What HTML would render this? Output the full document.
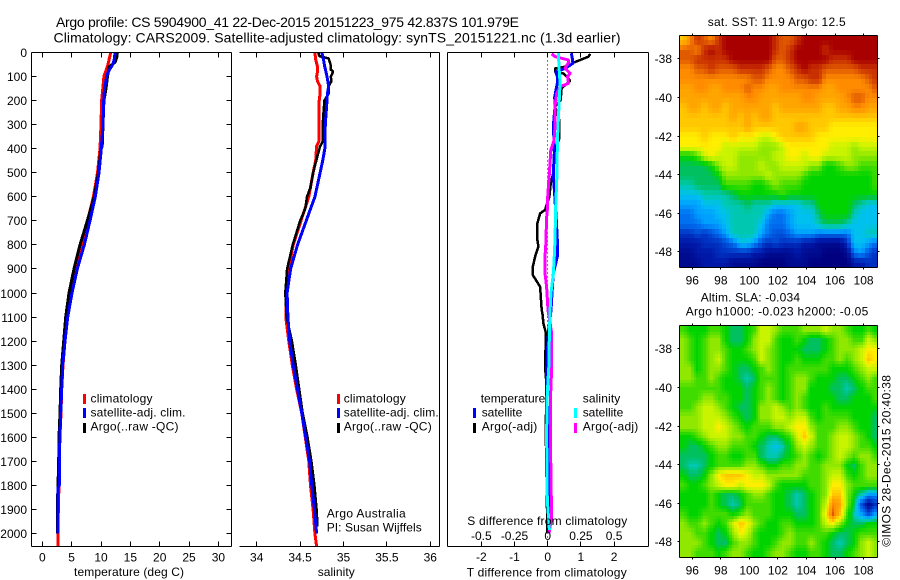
<!DOCTYPE html>
<html>
<head>
<meta charset="utf-8">
<title>Argo profile</title>
<style>
html,body{margin:0;padding:0;background:#fff;}
svg{display:block;font-family:"Liberation Sans",sans-serif;}
text{fill:#000;font-size:12px;}
.t14{font-size:14px;}
.ax{stroke:#000;stroke-width:1;fill:none;shape-rendering:crispEdges;}
</style>
</head>
<body>
<svg id="fig" xmlns="http://www.w3.org/2000/svg" width="900" height="580" viewBox="0 0 900 580">
<rect x="0" y="0" width="900" height="580" fill="#fff"/>
<g id="maps" shape-rendering="crispEdges"></g>
<g id="series"></g>
<g id="axes"></g>
<g id="ticklabels"></g>

<text class="t14" x="56" y="27" textLength="463" lengthAdjust="spacing">Argo profile: CS 5904900_41 22-Dec-2015 20151223_975 42.837S 101.979E</text>
<text class="t14" x="53.5" y="42.5" textLength="567" lengthAdjust="spacing">Climatology: CARS2009. Satellite-adjusted climatology: synTS_20151221.nc (1.3d earlier)</text>

<text x="74" y="576" textLength="110" lengthAdjust="spacing">temperature (deg C)</text>
<text x="317.7" y="576" textLength="37" lengthAdjust="spacing">salinity</text>
<text x="466.7" y="576.5" textLength="160" lengthAdjust="spacing">T difference from climatology</text>
<text x="467.3" y="525" textLength="160" lengthAdjust="spacing">S difference from climatology</text>

<g>
<rect x="83" y="394" width="3" height="10" fill="#f00"/>
<rect x="83" y="408" width="3" height="10" fill="#00f"/>
<rect x="83" y="423" width="3" height="10" fill="#000"/>
<text x="90.5" y="402.7" textLength="62" lengthAdjust="spacing">climatology</text>
<text x="90.5" y="416.7" textLength="95" lengthAdjust="spacing">satellite-adj. clim.</text>
<text x="90.5" y="430.7" textLength="88" lengthAdjust="spacing">Argo(..raw -QC)</text>
</g>
<g>
<rect x="337" y="394" width="3" height="10" fill="#f00"/>
<rect x="337" y="408" width="3" height="10" fill="#00f"/>
<rect x="337" y="423" width="3" height="10" fill="#000"/>
<text x="343.7" y="402.7" textLength="62" lengthAdjust="spacing">climatology</text>
<text x="343.7" y="416.7" textLength="95" lengthAdjust="spacing">satellite-adj. clim.</text>
<text x="343.7" y="430.7" textLength="88" lengthAdjust="spacing">Argo(..raw -QC)</text>
</g>
<text x="326.7" y="517.7" textLength="79" lengthAdjust="spacing">Argo Australia</text>
<text x="326.7" y="531.7" textLength="95" lengthAdjust="spacing">PI: Susan Wijffels</text>

<g>
<text x="480.7" y="402.7" textLength="64.6" lengthAdjust="spacing">temperature</text>
<text x="582.7" y="402.7" textLength="37.6" lengthAdjust="spacing">salinity</text>
<rect x="473" y="408" width="3" height="10" fill="#00f"/>
<rect x="473" y="423" width="3" height="10" fill="#000"/>
<rect x="574" y="408" width="3" height="10" fill="#0ff"/>
<rect x="574" y="423" width="3" height="10" fill="#f0f"/>
<text x="481.7" y="416.7" textLength="40.6" lengthAdjust="spacing">satellite</text>
<text x="481.7" y="430.7" textLength="55.6" lengthAdjust="spacing">Argo(-adj)</text>
<text x="582.7" y="416.7" textLength="40.6" lengthAdjust="spacing">satellite</text>
<text x="582.7" y="430.7" textLength="55.6" lengthAdjust="spacing">Argo(-adj)</text>
</g>

<text x="707.7" y="26" textLength="138" lengthAdjust="spacing">sat. SST: 11.9 Argo: 12.5</text>
<text x="700.7" y="301.7" textLength="99.3" lengthAdjust="spacing">Altim. SLA: -0.034</text>
<text x="685.7" y="315.7" textLength="182.6" lengthAdjust="spacing">Argo h1000: -0.023 h2000: -0.05</text>
<text transform="translate(890.7 546.7) rotate(-90)" x="0" y="0" textLength="171.7" lengthAdjust="spacing">©IMOS 28-Dec-2015 20:40:38</text>
</svg>

<script>
// ---------- profile data ----------
const tempClimDepth = [0,50,100,150,200,300,400,500,600,700,800,900,1000,1100,1200,1300,1400,1500,1600,1700,1800,1900,2000,2053];
const tempClim = [11.65,11.2,10.5,10.3,10.1,10.0,9.83,9.4,8.7,7.7,6.7,5.74,4.84,4.26,3.87,3.53,3.3,3.19,3.0,2.9,2.85,2.73,2.67,2.67];
const tempSatDepth = [0,30,50,80,100,150,200,300,400,500,600,700,800,900,1000,1100,1200,1300,1400,1500,1600,1700,1800,1810,2000];
const tempSat = [12.4,12.25,12.0,11.25,10.97,10.6,10.46,10.34,10.05,9.66,9.03,8.13,7.16,5.96,5.06,4.33,3.87,3.47,3.3,3.13,3.0,2.9,2.9,2.67,2.67];
const tempArgoDepth = [0,20,40,60,100,150,200,300,390,400,500,600,700,800,900,1000,1100,1200,1300,1400,1500,1600,1700,1800,1900,2000];
const tempArgo = [12.8,12.7,12.4,11.4,11.1,10.85,10.5,10.34,10.2,10.0,9.55,8.85,7.67,6.42,5.4,4.55,3.98,3.64,3.3,3.13,3.02,2.85,2.79,2.67,2.56,2.56];

const salClimDepth = [0,30,60,80,100,120,140,170,200,300,370,390,450,500,600,700,800,900,1000,1100,1200,1300,1400,1500,1600,1700,1800,1900,2000,2053];
const salClim = [34.67,34.68,34.70,34.70,34.69,34.70,34.73,34.73,34.72,34.715,34.715,34.69,34.68,34.65,34.6,34.51,34.42,34.37,34.34,34.335,34.37,34.41,34.46,34.52,34.56,34.6,34.62,34.65,34.67,34.69];
const salSatDepth = [0,30,60,100,140,170,200,300,400,450,500,600,700,800,900,1000,1100,1200,1300,1400,1500,1600,1700,1800,1900,2000];
const salSat = [34.75,34.77,34.785,34.81,34.83,34.815,34.81,34.79,34.785,34.76,34.73,34.67,34.57,34.47,34.39,34.35,34.36,34.38,34.42,34.47,34.52,34.565,34.61,34.635,34.665,34.69];
const salArgoDepth = [0,15,25,50,70,80,100,120,140,170,200,250,300,370,390,430,500,560,600,650,700,800,900,1000,1100,1200,1300,1400,1500,1600,1700,1800,1900,1970];
const salArgo = [34.71,34.72,34.83,34.85,34.85,34.88,34.855,34.86,34.83,34.83,34.78,34.77,34.76,34.76,34.73,34.7,34.65,34.62,34.58,34.56,34.5,34.415,34.35,34.33,34.345,34.405,34.45,34.49,34.53,34.585,34.63,34.665,34.69,34.7];

const dTSatDepth = [3,31,45,66,80,100,128,184,225,308,364,419,502,613,696,780,849,918,1001,1071,1168,1306,1417,1583,1999];
const dTSat = [0.71,0.75,0.76,0.53,0.24,0.29,0.29,0.21,0.22,0.17,0.19,0.2,0.17,0.22,0.26,0.29,0.29,0.17,0.13,0.1,0.02,-0.03,-0.03,0.02,0.03];
const dTArgoDepth = [6,17,31,45,56,66,80,87,117,149,198,225,281,357,405,502,544,599,655,669,710,780,807,849,891,925,974,1071,1084,1126,1168,1306,1389,1556,1999];
const dTArgo = [1.28,1.23,0.98,0.73,0.66,0.22,0.22,0.47,0.68,0.42,0.39,0.22,0.35,0.35,0.22,0.17,0.09,0.05,-0.08,-0.23,-0.31,-0.31,-0.28,-0.38,-0.45,-0.45,-0.23,-0.18,-0.16,-0.13,-0.05,-0.08,-0.03,-0.06,-0.01];
const dSArgoDepth = [6,17,31,42,66,87,100,128,142,170,225,308,364,405,502,558,600,655,696,780,849,918,974,1071,1168,1306,1445,1583,1791,1929,1999];
const dSArgo = [0.03,0.055,0.157,0.157,0.13,0.17,0.15,0.157,0.093,0.068,0.055,0.055,0.048,0.023,0.013,0.005,0,-0.003,-0.01,-0.012,-0.02,-0.02,-0.008,0.0025,0.03,0.03,0.02,0.02,0.025,0.03,0.01];
const dSSatDepth = [3,87,128,184,364,502,641,780,863,918,1001,1071,1168,1306,1417,1583,1860,1985];
const dSSat = [0.08,0.088,0.093,0.088,0.073,0.07,0.06,0.055,0.048,0.043,0.025,0.018,0.013,0.008,-0.003,-0.008,-0.003,0.013];

// ---------- tick labels ----------
const depthTicks = [0,100,200,300,400,500,600,700,800,900,1000,1100,1200,1300,1400,1500,1600,1700,1800,1900,2000];
const tempTicks = [0,5,10,15,20,25,30];
const salTicks = [34,34.5,35,35.5,36];
const tDiffTicks = [-2,-1,0,1,2];
const sDiffTicks = [-0.5,-0.25,0,0.25,0.5];
const lonTicks = [96,98,100,102,104,106,108];
const latTicks = [-38,-40,-42,-44,-46,-48];

// ---------- map data (colour level 0..20 on 0.5-degree samples, north to south) ----------
const sstLevels = [
[15,17,19,18,17,19,20,20,20,20,20,20,20,19,18,18,19,20,20,20,20,20,20,20,20,20,20,20],
[18,18,17,19,20,19,20,20,20,20,20,20,20,19,18,19,20,20,20,20,19,20,20,20,20,20,20,20],
[18,18,19,19,19,19,19,20,20,20,20,20,20,18,18,19,20,20,20,20,20,19,19,19,20,20,20,20],
[17,17,18,18,19,18,18,18,19,19,19,19,18,17,17,18,19,20,19,19,18,18,18,18,18,19,19,19],
[17,17,17,17,17,17,17,17,17,17,18,18,17,17,17,17,18,18,19,19,17,17,17,17,17,17,18,19],
[16,16,17,17,16,16,17,17,17,18,17,17,16,16,17,17,17,17,17,17,16,16,17,17,17,17,17,18],
[16,16,16,16,16,16,16,16,16,17,17,16,16,16,16,16,16,17,17,16,16,16,16,17,18,18,17,17],
[15,16,16,15,16,16,15,16,16,16,16,16,16,15,16,16,16,16,16,16,15,15,16,16,17,17,16,16],
[15,15,15,15,15,15,15,16,15,16,15,16,16,15,15,15,15,15,15,15,15,15,15,15,15,15,15,15],
[15,15,15,15,15,15,15,15,15,16,15,15,15,15,15,15,16,16,15,15,15,14,14,14,14,14,14,14],
[14,14,14,15,14,14,14,15,14,14,14,13,13,14,15,15,15,15,15,14,14,14,14,14,14,14,14,14],
[14,14,14,14,14,14,13,13,13,13,13,12,12,12,13,14,14,14,14,14,14,13,13,13,12,13,13,13],
[10,10,11,13,14,13,13,13,12,12,12,12,12,13,13,14,14,13,14,14,13,13,13,13,12,12,12,12],
[9,9,9,9,10,12,13,13,12,12,12,13,12,12,13,13,13,13,12,12,10,10,11,12,12,11,11,11],
[9,9,9,9,9,10,12,12,12,12,12,12,13,12,12,12,12,11,10,10,10,10,10,10,10,10,10,11],
[8,8,9,9,9,9,11,11,11,11,10,10,11,12,11,11,11,10,10,10,10,10,10,10,10,10,10,11],
[7,7,7,8,8,8,8,9,10,10,10,10,10,10,11,10,10,10,10,10,10,10,10,10,10,10,10,10],
[6,6,6,7,7,7,8,8,8,9,8,8,8,7,7,7,7,8,8,10,10,10,10,10,9,8,7,7],
[5,5,6,6,6,7,7,8,8,8,8,8,6,5,5,6,7,7,7,9,10,10,10,10,8,7,7,7],
[5,5,5,6,6,6,7,8,8,8,8,7,5,5,5,6,7,7,7,8,9,9,9,8,7,7,7,7],
[3,3,4,3,4,5,6,8,8,8,8,6,5,4,4,5,6,6,6,5,5,5,5,5,7,7,8,8],
[2,2,2,3,3,3,4,5,7,7,6,4,3,4,3,3,3,2,2,1,1,1,1,3,7,7,6,5],
[1,1,2,2,2,3,3,3,3,3,2,2,1,1,1,1,2,1,1,1,0,0,0,1,5,6,4,3],
[1,1,1,2,2,2,2,1,1,1,1,0,0,0,0,1,1,1,0,0,0,0,0,0,2,2,3,3]
];
const slaLevels = [
[11,10,10,10,11,11,10,9,9,10,11,13,13,12,11,11,11,12,12,12,13,12,12,11,10,10,11,10],
[12,11,10,11,12,12,10,9,9,10,12,13,13,11,10,10,11,10,9,9,10,11,12,12,11,11,13,12],
[12,11,10,11,12,12,11,10,10,11,12,13,12,11,10,10,10,9,9,9,10,11,12,12,12,13,14,14],
[12,11,10,11,12,13,11,10,10,10,11,13,12,11,10,10,11,10,10,10,11,11,12,11,12,13,15,14],
[12,12,10,11,12,12,11,10,9,9,10,11,12,11,10,11,11,11,11,11,11,10,10,10,11,12,13,13],
[12,12,11,11,12,11,10,10,9,8,9,11,11,11,10,11,12,12,11,10,10,10,9,9,10,11,12,11],
[11,11,11,11,11,11,10,10,10,9,10,11,12,11,10,11,12,12,10,10,10,9,9,8,9,10,11,11],
[11,11,11,12,12,11,11,10,10,9,10,11,12,11,10,11,12,11,10,10,10,10,9,9,10,10,10,11],
[11,11,12,13,13,12,11,10,9,9,10,12,12,13,12,11,12,11,10,10,11,10,10,10,10,10,10,10],
[12,12,12,13,13,13,12,11,10,9,10,12,12,13,13,12,13,13,11,10,11,11,11,11,10,10,10,9],
[12,12,12,13,13,14,13,12,11,10,11,11,11,12,12,13,14,14,12,11,11,11,12,12,11,10,10,9],
[10,10,11,12,13,13,13,12,12,11,11,10,9,9,10,11,13,15,13,11,11,12,13,13,12,11,10,9],
[10,9,9,10,11,12,12,11,11,11,10,9,8,7,8,10,12,13,12,11,11,12,13,13,12,11,11,10],
[9,9,9,9,10,11,11,10,10,11,11,9,8,8,9,10,11,12,11,10,11,12,13,12,11,12,12,11],
[9,8,8,9,10,11,11,11,11,12,12,11,10,10,11,11,12,12,11,11,12,12,12,10,9,11,12,12],
[10,9,9,10,12,14,15,15,15,14,13,13,12,12,12,12,12,11,11,11,12,13,13,11,10,11,12,12],
[11,10,10,11,12,13,14,14,13,14,14,14,13,11,10,10,10,10,11,11,12,14,14,12,11,11,11,11],
[10,10,10,10,11,10,9,9,10,11,12,12,11,10,10,9,8,9,10,11,12,15,15,12,10,8,6,6],
[10,10,10,10,11,10,9,8,9,11,11,11,11,10,10,9,8,9,10,11,13,17,16,12,9,4,1,3],
[11,10,10,11,11,11,11,10,11,12,11,11,11,10,10,10,9,9,10,11,14,18,15,11,8,6,4,6],
[12,11,11,12,11,10,11,13,15,14,12,11,10,10,11,11,10,10,10,11,13,14,12,10,9,9,10,10],
[12,12,11,11,10,9,10,12,14,13,11,10,10,10,11,12,11,11,11,11,11,10,9,9,10,11,11,11],
[12,12,12,11,10,9,9,11,12,12,11,10,10,11,12,12,11,11,12,11,10,9,8,9,10,12,13,12],
[12,12,11,11,11,10,11,12,12,11,10,10,11,12,12,11,10,10,11,11,10,9,9,10,11,12,13,12]
];
const levelColors = [[0,0,128],[0,12,144],[0,24,168],[0,48,192],[0,80,216],[0,112,240],[0,160,255],[0,192,240],[0,200,176],[0,192,96],[0,212,0],[64,220,0],[144,232,0],[200,244,0],[255,238,0],[255,200,0],[255,165,0],[255,140,0],[224,90,0],[200,48,0],[168,0,0]];

// ---------- axis functions ----------
const SVGNS = "http://www.w3.org/2000/svg";
const depthY = d => 52.5 + 0.2405 * d;
const tempX = v => 42.3 + 5.87 * v;
const salX = v => 256.7 + 86.8 * (v - 34);
const tDiffX = v => 547.7 + 33.2 * v;
const sDiffX = v => tDiffX(v * 4);
const lonX = v => 692.3 + 14.27 * (v - 96);
const LEFT = 679.5, RIGHT = 877.5;
const MAP1TOP = 35.5, MAP2TOP = 325.5;
const latY = (v, top) => top + 19.33 * (-36.8 - v);
const LON0 = 95.1, LAT0 = -36.8, CELL = 0.5;

const mapsG = document.getElementById('maps');
const seriesG = document.getElementById('series');
const axesG = document.getElementById('axes');
const labelsG = document.getElementById('ticklabels');

function mk(tag, attrs) {
  const e = document.createElementNS(SVGNS, tag);
  for (const k in attrs) e.setAttribute(k, attrs[k]);
  return e;
}
function addLine(x1, y1, x2, y2) {
  const l = mk('line', {x1: x1, y1: y1, x2: x2, y2: y2, class: 'ax'});
  
  
  axesG.appendChild(l);
}
function addLabel(str, x, y, anchor) {
  const t = mk('text', {x: x, y: y, 'text-anchor': anchor});
  
  
  t.textContent = str;
  labelsG.appendChild(t);
}
function drawProfile(depths, values, xFn, color, width, name) {
  const pts = depths.map((d, i) => xFn(values[i]).toFixed(1) + ',' + depthY(d).toFixed(1)).join(' ');
  const p = mk('polyline', {points: pts, fill: 'none', stroke: color, 'stroke-width': width, 'shape-rendering': 'crispEdges', 'stroke-linejoin': 'bevel'});
  
  
  seriesG.appendChild(p);
}
function levelColor(v) {
  const c = Math.max(0, Math.min(20, v));
  const i = Math.min(19, Math.floor(c)), f = c - i;
  const a = levelColors[i], b = levelColors[i + 1];
  return 'rgb(' + [0, 1, 2].map(k => Math.round(a[k] + (b[k] - a[k]) * f)).join(',') + ')';
}
function sample(levels, u, v) {
  const rows = levels.length, cols = levels[0].length;
  const cu = Math.max(0, Math.min(cols - 1, u)), cv = Math.max(0, Math.min(rows - 1, v));
  const i = Math.min(cols - 2, Math.floor(cu)), j = Math.min(rows - 2, Math.floor(cv));
  const fu = cu - i, fv = cv - j;
  return (levels[j][i] * (1 - fu) + levels[j][i + 1] * fu) * (1 - fv) + (levels[j + 1][i] * (1 - fu) + levels[j + 1][i + 1] * fu) * fv;
}
function drawMap(levels, top, sub, name) {
  const rows = levels.length, cols = levels[0].length;
  for (let r = 0; r < rows * sub; r++) {
    for (let c = 0; c < cols * sub; c++) {
      const x0 = Math.round(lonX(LON0 + CELL * c / sub)), x1 = Math.min(Math.round(RIGHT), Math.round(lonX(LON0 + CELL * (c + 1) / sub)));
      const y0 = Math.round(latY(LAT0 - CELL * r / sub, top)), y1 = Math.round(latY(LAT0 - CELL * (r + 1) / sub, top));
      if (x1 <= x0 || y1 <= y0) continue;
      const val = sample(levels, (c + 0.5) / sub - 0.5, (r + 0.5) / sub - 0.5);
      const cell = mk('rect', {x: x0, y: y0, width: x1 - x0, height: y1 - y0, fill: levelColor(val)});
      
      
      mapsG.appendChild(cell);
    }
  }
}

// ---------- maps ----------
drawMap(sstLevels, MAP1TOP, 2, 'sst-map-cell');
drawMap(slaLevels, MAP2TOP, 3, 'sla-map-cell');

// ---------- series ----------
drawProfile(tempClimDepth, tempClim, tempX, '#f00', 3, 'temperature-climatology-line');
drawProfile(tempArgoDepth, tempArgo, tempX, '#000', 3, 'temperature-argo-line');
drawProfile(tempSatDepth, tempSat, tempX, '#00f', 3, 'temperature-satellite-line');
drawProfile(salClimDepth, salClim, salX, '#f00', 3, 'salinity-climatology-line');
drawProfile(salArgoDepth, salArgo, salX, '#000', 2.5, 'salinity-argo-line');
drawProfile(salSatDepth, salSat, salX, '#00f', 3, 'salinity-satellite-line');

const zero = mk('line', {x1: tDiffX(0), y1: depthY(0), x2: tDiffX(0), y2: depthY(2053), stroke: '#000', 'stroke-width': 1, 'stroke-dasharray': '1 3', 'shape-rendering': 'crispEdges'});


seriesG.appendChild(zero);

drawProfile(dTArgoDepth, dTArgo, tDiffX, '#000', 2.5, 'difference-t-argo-line');
drawProfile(dTSatDepth, dTSat, tDiffX, '#00f', 3, 'difference-t-satellite-line');
drawProfile(dSArgoDepth, dSArgo, sDiffX, '#f0f', 3, 'difference-s-argo-line');
drawProfile(dSSatDepth, dSSat, sDiffX, '#0ff', 3, 'difference-s-satellite-line');

// ---------- profile axes ----------
const TOP = 52.5, BOT = 546.5;
// panel 1
addLine(31.5, TOP, 231.5, TOP);
addLine(31.5, BOT, 231.5, BOT);
addLine(31.5, TOP, 31.5, BOT);
addLine(231.5, TOP, 231.5, BOT);
depthTicks.forEach(d => {
  const y = Math.floor(depthY(d)) + 0.5;
  addLine(31.5, y, 36.5, y);
  addLine(226.5, y, 231.5, y);
  addLabel(String(d), 27, y + 4.5, 'end');
});
tempTicks.forEach(v => {
  const x = Math.floor(tempX(v)) + 0.5;
  addLine(x, TOP, x, TOP + 5);
  addLine(x, BOT - 5, x, BOT);
  addLabel(String(v), tempX(v), 561.5, 'middle');
});
// panel 2
addLine(239.5, TOP, 439.5, TOP);
addLine(239.5, BOT, 439.5, BOT);
addLine(439.5, TOP, 439.5, BOT);
salTicks.forEach(v => {
  const x = Math.floor(salX(v)) + 0.5;
  addLine(x, TOP, x, TOP + 5);
  addLine(x, BOT - 5, x, BOT);
  addLabel(String(v), salX(v), 561.5, 'middle');
});
// panel 3
addLine(447.5, TOP, 648.5, TOP);
addLine(447.5, BOT, 648.5, BOT);
addLine(447.5, TOP, 447.5, BOT);
addLine(648.5, TOP, 648.5, BOT);
tDiffTicks.forEach(v => {
  const x = Math.floor(tDiffX(v)) + 0.5;
  addLine(x, TOP, x, TOP + 5);
  addLine(x, BOT - 5, x, BOT);
  addLabel(String(v), tDiffX(v), 561, 'middle');
});
sDiffTicks.forEach(v => {
  addLabel(String(v), sDiffX(v), 540, 'middle');
});

// ---------- map axes ----------
[MAP1TOP, MAP2TOP].forEach(top => {
  const bot = top + 232;
  addLine(LEFT, top, RIGHT, top);
  addLine(LEFT, bot, RIGHT, bot);
  addLine(LEFT, top, LEFT, bot);
  addLine(RIGHT, top, RIGHT, bot);
  lonTicks.forEach(v => {
    const x = Math.floor(lonX(v)) + 0.5;
    addLine(x, top - 2, x, top);
    addLine(x, bot, x, bot + 2);
    addLabel(String(v), lonX(v), bot + 16.8, 'middle');
  });
  latTicks.forEach(v => {
    const y = Math.floor(latY(v, top)) + 0.5;
    addLine(LEFT - 2, y, LEFT, y);
    addLine(RIGHT, y, RIGHT + 2, y);
    addLabel(String(v), 672, y + 4.5, 'end');
  });
});
</script>
</body>
</html>
